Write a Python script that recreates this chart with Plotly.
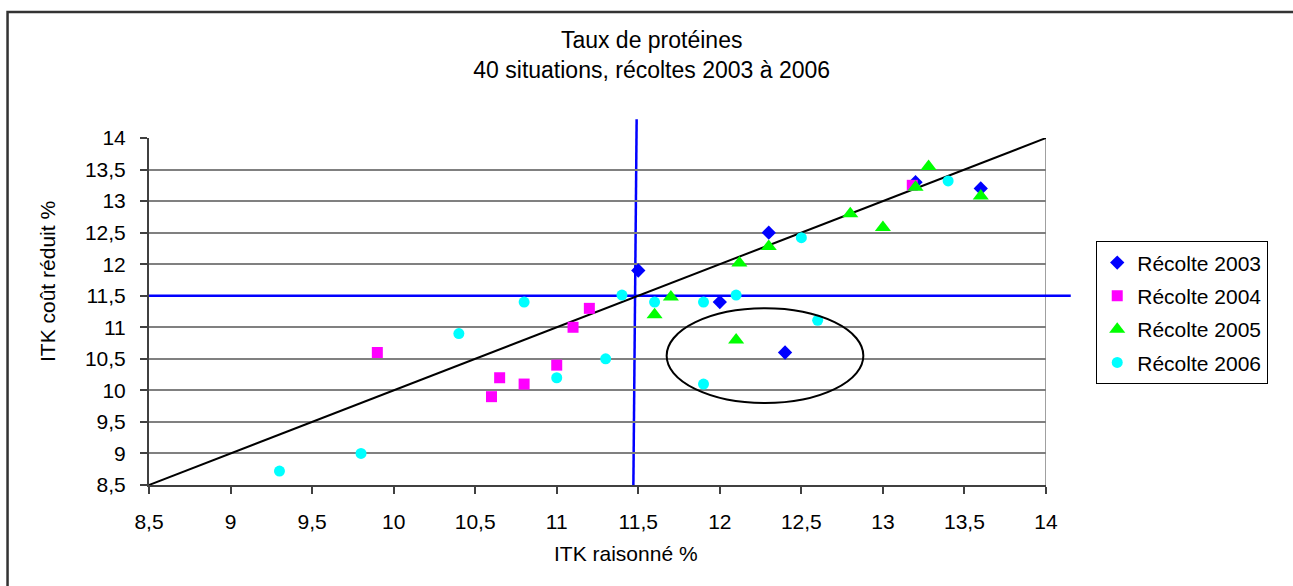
import plotly.graph_objects as go

# ---- data ----
x2003 = [11.5, 12.0, 12.3, 12.4, 13.2, 13.6]
y2003 = [11.9, 11.4, 12.5, 10.6, 13.3, 13.2]
x2004 = [9.9, 10.6, 10.65, 10.8, 11.0, 11.1, 11.2, 13.18]
y2004 = [10.6, 9.9, 10.2, 10.1, 10.4, 11.0, 11.3, 13.25]
x2005 = [11.6, 11.7, 12.1, 12.12, 12.3, 12.8, 13.0, 13.2, 13.28, 13.6]
y2005 = [11.2, 11.48, 10.8, 12.02, 12.28, 12.8, 12.58, 13.22, 13.55, 13.08]
x2006 = [9.3, 9.8, 10.4, 10.8, 11.0, 11.3, 11.4, 11.6, 11.9, 11.9, 12.1, 12.5, 12.6, 13.4]
y2006 = [8.72, 9.0, 10.9, 11.4, 10.2, 10.5, 11.51, 11.4, 11.4, 10.1, 11.51, 12.42, 11.11, 13.32]
diag = [8.5, 14]
seuil_x = 11.5
seuil_y = 11.5
ellipse_x = [11.674, 12.88]
ellipse_y = [9.80, 11.30]

FONT = "Liberation Sans, Arial, sans-serif"

fig = go.Figure()
fig.add_trace(go.Scatter(x=diag, y=diag, mode="lines", line=dict(color="black", width=2),
                         showlegend=False, hoverinfo="skip"))
fig.add_trace(go.Scatter(x=x2003, y=y2003, mode="markers", name="Récolte 2003", legendgroup="a",
                         marker=dict(symbol="diamond", color="#0000FF", size=11)))
fig.add_trace(go.Scatter(x=x2004, y=y2004, mode="markers", name="Récolte 2004", legendgroup="b",
                         marker=dict(symbol="square", color="#FF00FF", size=11)))
fig.add_trace(go.Scatter(x=x2005, y=y2005, mode="markers", name="Récolte 2005", legendgroup="c",
                         marker=dict(symbol="triangle-up", color="#00FF00", size=14)))
fig.add_trace(go.Scatter(x=x2006, y=y2006, mode="markers", name="Récolte 2006", legendgroup="d",
                         marker=dict(symbol="circle", color="#00FFFF", size=11)))

blue = dict(color="#0000FF", width=2.5)
shapes = [
    # right frame of plot area
    dict(type="line", xref="x", yref="paper", x0=14, x1=14, y0=0, y1=1,
         line=dict(color="#808080", width=1.5), layer="between"),
    # threshold lines (inside plot, above gridlines but under markers)
    dict(type="line", xref="x", yref="y", x0=8.5, x1=14, y0=seuil_y, y1=seuil_y,
         line=blue, layer="between"),
    # extension of horizontal threshold line beyond the plot area
    dict(type="line", xref="paper", yref="y", x0=1.0, x1=1.0276, y0=seuil_y, y1=seuil_y,
         line=blue, layer="above"),
    dict(type="line", xref="x", yref="paper", x0=seuil_x - 0.01, x1=seuil_x - 0.03, y0=1.054, y1=0,
         line=blue, layer="between"),
    # ellipse
    dict(type="circle", xref="x", yref="y", x0=ellipse_x[0], x1=ellipse_x[1],
         y0=ellipse_y[0], y1=ellipse_y[1], line=dict(color="black", width=2), layer="above"),
    # outer chart border
    dict(type="rect", xref="paper", yref="paper", x0=-0.1577, x1=1.3, y0=-0.35, y1=1.363,
         line=dict(color="#333333", width=2.5), fillcolor="rgba(0,0,0,0)", layer="above"),
]

fig.update_layout(
    width=1293, height=586,
    margin=dict(l=149, r=247, t=138, b=101, pad=0),
    paper_bgcolor="white", plot_bgcolor="white",
    separators=", ",
    font=dict(family=FONT, size=21, color="black"),
    title=dict(text="Taux de protéines<br>40 situations, récoltes 2003 à 2006",
               x=0.504, xanchor="center", y=0.918, yanchor="middle",
               font=dict(family=FONT, size=23, color="black")),
    showlegend=True,
    legend=dict(x=1.056, xanchor="left", y=0.702, yanchor="top",
                bordercolor="black", borderwidth=1, bgcolor="white",
                font=dict(family=FONT, size=21, color="black"),
                tracegroupgap=3, itemsizing="trace", itemwidth=30),
    shapes=shapes,
    annotations=[
        dict(text="ITK raisonné %", xref="paper", yref="paper",
             x=(626 - 149) / 897, y=(485 - 553) / 347, xanchor="center", yanchor="middle",
             showarrow=False, font=dict(family=FONT, size=21, color="black")),
        dict(text="ITK coût réduit %", xref="paper", yref="paper", textangle=-90,
             x=(47 - 149) / 897, y=(485 - 282) / 347, xanchor="center", yanchor="middle",
             showarrow=False, font=dict(family=FONT, size=21, color="black")),
    ],
)

fig.update_xaxes(range=[8.5, 14], dtick=0.5, tick0=8.5, showgrid=False, zeroline=False,
                 showline=True, linecolor="#404040", linewidth=2,
                 ticks="outside", ticklen=7, tickwidth=1.5, tickcolor="#404040",
                 ticklabelstandoff=10, tickfont=dict(family=FONT, size=21, color="black"))
fig.update_yaxes(range=[8.5, 14], dtick=0.5, tick0=8.5, showgrid=True, gridcolor="#808080",
                 gridwidth=1.5, zeroline=False,
                 showline=True, linecolor="#404040", linewidth=2,
                 ticks="outside", ticklen=7, tickwidth=1.5, tickcolor="#404040",
                 ticklabelstandoff=10, tickfont=dict(family=FONT, size=21, color="black"))

fig.write_html("out.html")
